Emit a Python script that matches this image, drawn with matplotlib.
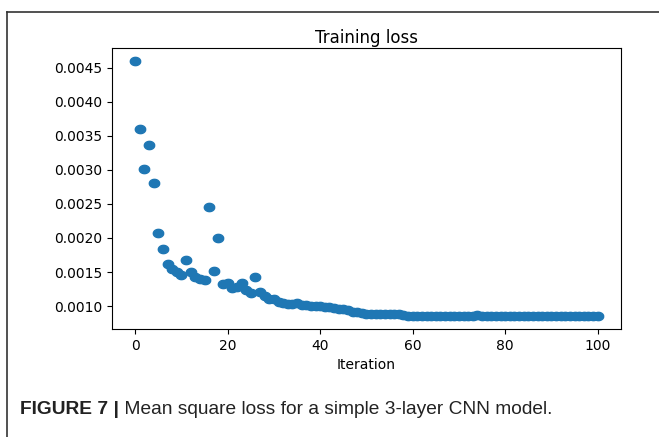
import numpy as np
import matplotlib
matplotlib.use("Agg")
import matplotlib.pyplot as plt
from matplotlib.path import Path
from matplotlib.lines import Line2D

# training loss per iteration
iterations = list(range(101))
loss = [
    0.00460, 0.00360, 0.00301, 0.00337, 0.00280, 0.00208, 0.00184, 0.00162, 0.00155, 0.00150,
    0.00146, 0.00168, 0.00150, 0.00143, 0.00140, 0.00139, 0.00246, 0.00152, 0.00200, 0.00133,
    0.00134, 0.00127, 0.00128, 0.00134, 0.00123, 0.00119, 0.00142, 0.00120, 0.00115, 0.00111,
    0.00111, 0.00106, 0.00104, 0.00103, 0.00103, 0.00104, 0.00101, 0.00101, 0.00100, 0.00100,
    0.00100, 0.00099, 0.00098, 0.00097, 0.00096, 0.00095, 0.00094, 0.00092, 0.00091, 0.00090,
    0.00089, 0.00089, 0.00089, 0.00089, 0.00089, 0.00089, 0.00088, 0.00088, 0.00087, 0.00086,
    0.00086, 0.00086, 0.00086, 0.00086, 0.00086, 0.00086, 0.00086, 0.00086, 0.00086, 0.00086,
    0.00086, 0.00086, 0.00086, 0.00086, 0.00087, 0.00085, 0.00085, 0.00085, 0.00085, 0.00085,
    0.00085, 0.00085, 0.00085, 0.00085, 0.00085, 0.00085, 0.00085, 0.00085, 0.00085, 0.00085,
    0.00085, 0.00085, 0.00085, 0.00085, 0.00085, 0.00085, 0.00085, 0.00085, 0.00085, 0.00085,
    0.00086,
]
title = "Training loss"
xlabel = "Iteration"
cap_bold = "FIGURE 7 |"
cap_text = " Mean square loss for a simple 3-layer CNN model."

# the original picture is a bit squashed vertically -> elliptic dots
t = np.linspace(0, 2 * np.pi, 40)
ellipse = Path(np.column_stack([np.cos(t), 0.8 * np.sin(t)]))

fig = plt.figure(figsize=(6.59, 4.37), dpi=100)
ax = fig.add_axes([0.170, 0.247, 0.772, 0.643])
ax.scatter(iterations, loss, s=56, marker=ellipse, color="#1f77b4")
ax.set_title(title, pad=4)
ax.set_xlabel(xlabel)
ax.set_xticks([0, 20, 40, 60, 80, 100])

# frame lines of the page box (left + top)
fig.add_artist(Line2D([7 / 659, 7 / 659], [0, 1 - 12 / 437], transform=fig.transFigure,
                      color="#333333", lw=1.2))
fig.add_artist(Line2D([7 / 659, 1], [1 - 12 / 437, 1 - 12 / 437], transform=fig.transFigure,
                      color="#333333", lw=1.2))

cap_font = ["Liberation Sans Narrow", "Liberation Sans", "DejaVu Sans"]
t1 = fig.text(20 / 659, 1 - 410 / 437, cap_bold, fontsize=13.8, fontweight="bold",
              family=cap_font, va="center", color="#222222")
fig.canvas.draw()
bb = t1.get_window_extent(fig.canvas.get_renderer())
fig.text(bb.x1 / fig.bbox.width, 1 - 410 / 437, cap_text, fontsize=13.8,
         family=cap_font, va="center", color="#222222")

fig.savefig("out.png", dpi=100)
